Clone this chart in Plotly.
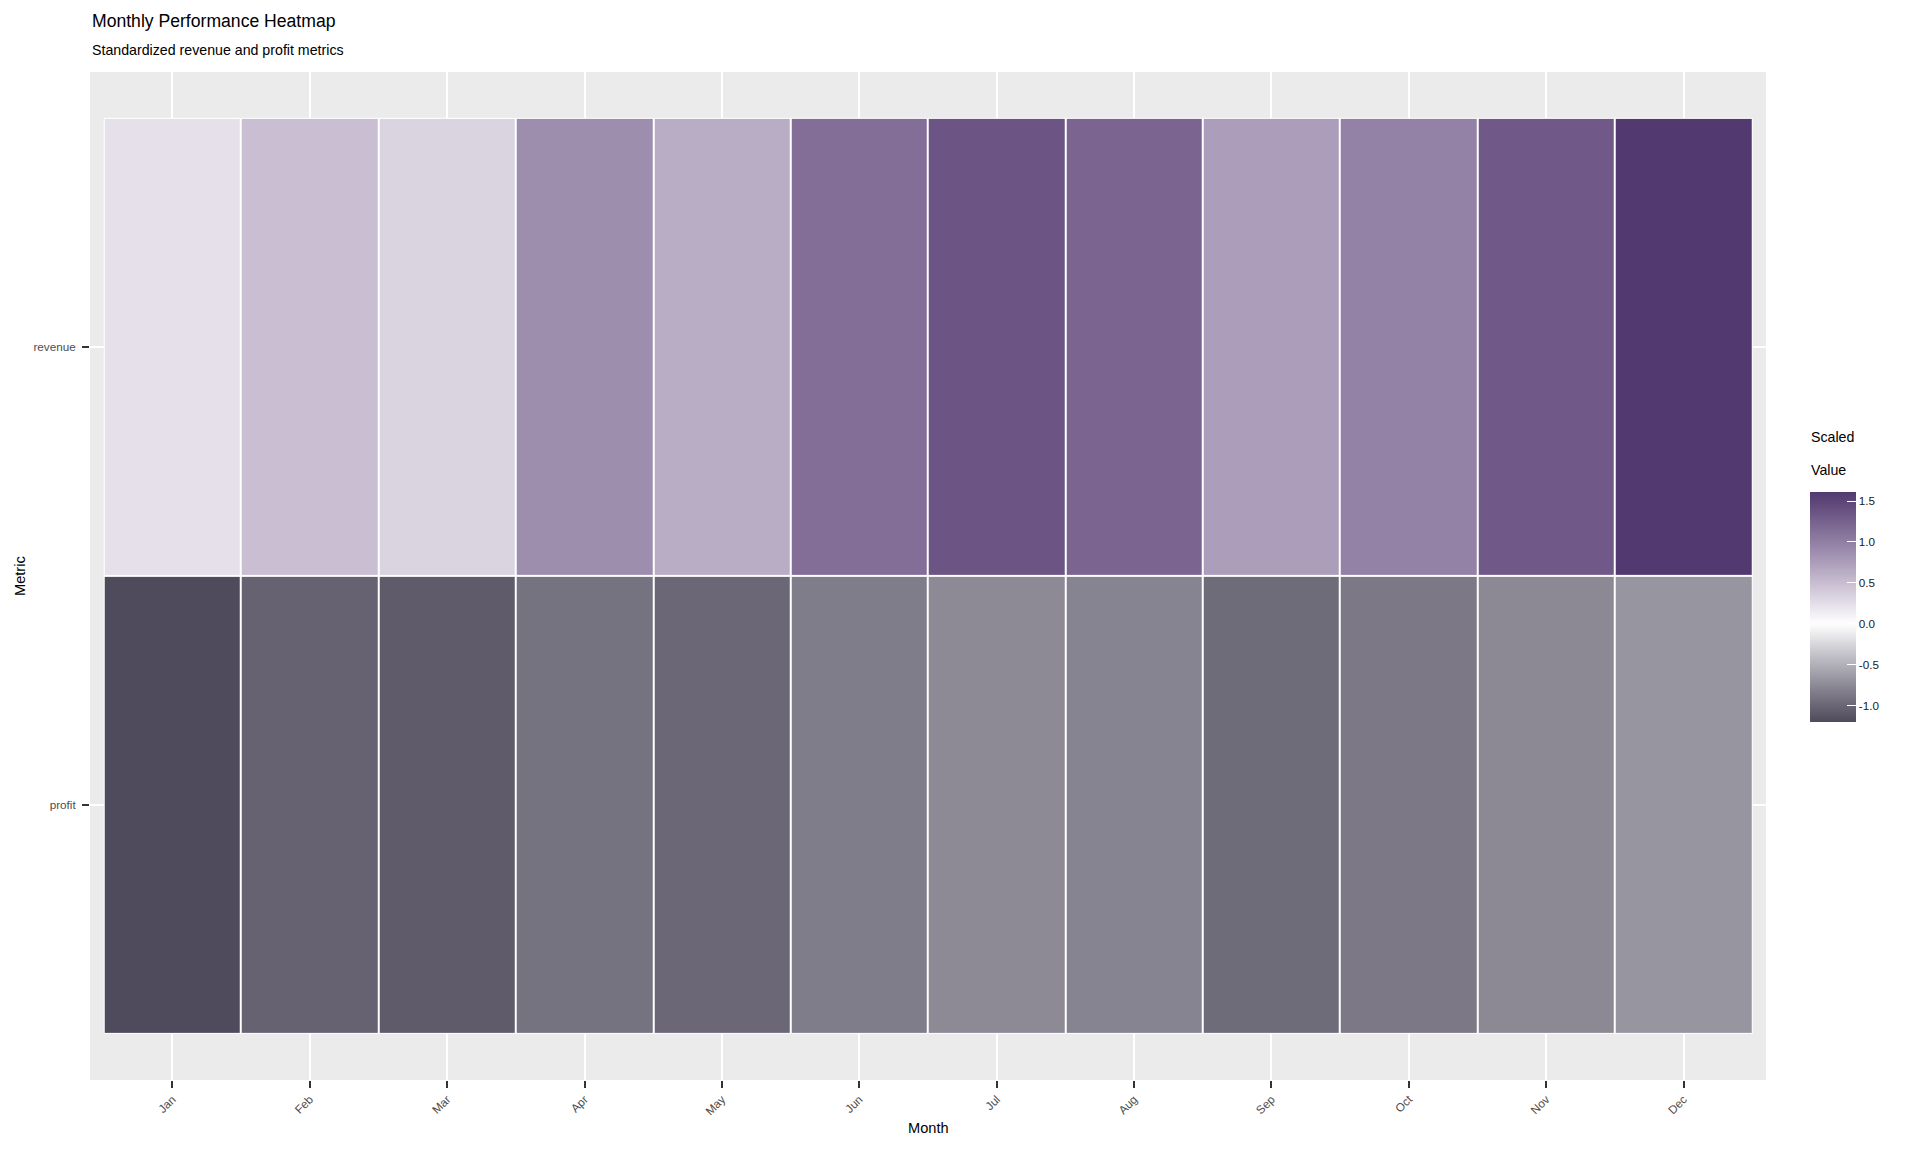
import plotly.graph_objects as go

# ---- data ----
months = ["Jan", "Feb", "Mar", "Apr", "May", "Jun", "Jul", "Aug", "Sep", "Oct", "Nov", "Dec"]
metrics = ["profit", "revenue"]
revenue = [0.23, 0.49, 0.33, 0.88, 0.63, 1.14, 1.36, 1.22, 0.75, 0.97, 1.32, 1.61]
profit = [-1.20, -1.03, -1.08, -0.91, -0.99, -0.84, -0.75, -0.79, -0.96, -0.87, -0.76, -0.68]
cbar_ticks = [-1.0, -0.5, 0.0, 0.5, 1.0, 1.5]

LOW_COL = "#4f4b5c"   # colour at data minimum
HIGH_COL = "#52396f"  # colour at data maximum
FONT = "Liberation Sans, Arial, sans-serif"

# panel geometry (pixels)
W, H = 1920, 1152
PL, PR, PT, PB = 90, 1766, 72, 1080
CB_L, CB_W, CB_TOP, CB_BOT = 1810, 46, 492, 722

# ---- Lab interpolation helpers (mimic ggplot gradient2) ----
def hex_to_rgb(h):
    h = h.lstrip("#")
    return [int(h[i:i + 2], 16) / 255 for i in (0, 2, 4)]

def srgb_to_lin(c):
    return c / 12.92 if c <= 0.04045 else ((c + 0.055) / 1.055) ** 2.4

def lin_to_srgb(c):
    c = max(0.0, min(1.0, c))
    return 12.92 * c if c <= 0.0031308 else 1.055 * c ** (1 / 2.4) - 0.055

WX, WY, WZ = 0.95047, 1.0, 1.08883

def f(t):
    return t ** (1 / 3) if t > 216 / 24389 else (24389 / 27 * t + 16) / 116

def finv(t):
    return t ** 3 if t ** 3 > 216 / 24389 else (116 * t - 16) / (24389 / 27)

def to_lab(h):
    r, g, b = [srgb_to_lin(c) for c in hex_to_rgb(h)]
    X = 0.4124 * r + 0.3576 * g + 0.1805 * b
    Y = 0.2126 * r + 0.7152 * g + 0.0722 * b
    Z = 0.0193 * r + 0.1192 * g + 0.9505 * b
    fx, fy, fz = f(X / WX), f(Y / WY), f(Z / WZ)
    return (116 * fy - 16, 500 * (fx - fy), 200 * (fy - fz))

def from_lab(L, a, b):
    fy = (L + 16) / 116
    fx = fy + a / 500
    fz = fy - b / 200
    X, Y, Z = WX * finv(fx), WY * finv(fy), WZ * finv(fz)
    r = 3.2406 * X - 1.5372 * Y - 0.4986 * Z
    g = -0.9689 * X + 1.8758 * Y + 0.0415 * Z
    bb = 0.0557 * X - 0.2040 * Y + 1.0570 * Z
    return "rgb(%d,%d,%d)" % tuple(round(255 * lin_to_srgb(c)) for c in (r, g, bb))

white_lab = to_lab("#ffffff")
low_lab = to_lab(LOW_COL)
high_lab = to_lab(HIGH_COL)

zmin = min(profit + revenue)
zmax = max(profit + revenue)

def colour_at(v):
    if v < 0:
        t = v / zmin
        tgt = low_lab
    else:
        t = v / zmax
        tgt = high_lab
    return from_lab(*[w + (c - w) * t for w, c in zip(white_lab, tgt)])

N = 60
colorscale = []
for i in range(N + 1):
    p = i / N
    v = zmin + p * (zmax - zmin)
    colorscale.append([p, colour_at(v)])

z = [profit, revenue]

def ypaper(pix):
    return (PB - pix) / (PB - PT)

def xpaper(pix):
    return (pix - PL) / (PR - PL)

fig = go.Figure()

# white underlay to create white tile outlines
fig.add_trace(go.Heatmap(
    x=months, y=metrics, z=[[0] * len(months) for _ in metrics],
    colorscale=[[0, "white"], [1, "white"]], showscale=False,
    hoverinfo="skip",
))

fig.add_trace(go.Heatmap(
    x=months, y=metrics, z=z,
    zmin=zmin, zmax=zmax,
    colorscale=colorscale,
    xgap=2, ygap=2,
    colorbar=dict(
        thickness=CB_W, thicknessmode="pixels",
        len=CB_BOT - CB_TOP, lenmode="pixels",
        x=xpaper(CB_L), xanchor="left", xpad=0,
        y=ypaper((CB_TOP + CB_BOT) / 2), yanchor="middle", ypad=0,
        outlinewidth=0,
        tickvals=cbar_ticks,
        ticktext=["%.1f" % t for t in cbar_ticks],
        ticks="inside", ticklen=9, tickcolor="white", tickwidth=1.2,
        tickfont=dict(family=FONT, size=11.7, color="#1a1a1a"),
    ),
))

# left-side white ticks on the colour bar (ggplot style)
shapes = []
for t in cbar_ticks:
    ypix = CB_BOT - (t - zmin) / (zmax - zmin) * (CB_BOT - CB_TOP)
    shapes.append(dict(type="line", xref="paper", yref="paper",
                       x0=xpaper(CB_L), x1=xpaper(CB_L + 9),
                       y0=ypaper(ypix), y1=ypaper(ypix),
                       line=dict(color="white", width=1.2)))

fig.update_layout(
    width=W, height=H,
    margin=dict(l=PL, r=W - PR, t=PT, b=H - PB),
    paper_bgcolor="white",
    plot_bgcolor="#ebebeb",
    font=dict(family=FONT, color="#1a1a1a"),
    xaxis=dict(
        type="category", range=[-0.6, 11.6],
        showgrid=True, gridcolor="white", gridwidth=2,
        ticks="outside", ticklen=7, tickwidth=2, tickcolor="#333333",
        tickangle=-45, ticklabelstandoff=0,
        tickfont=dict(family=FONT, size=11.7, color="#4d4d4d"),
        showline=False, zeroline=False,
    ),
    yaxis=dict(
        type="category", range=[-0.6, 1.6],
        showgrid=True, gridcolor="white", gridwidth=2,
        ticks="outside", ticklen=7, tickwidth=2, tickcolor="#333333",
        ticklabelstandoff=4,
        tickfont=dict(family=FONT, size=11.7, color="#4d4d4d"),
        showline=False, zeroline=False,
    ),
    showlegend=False,
    shapes=shapes,
)

annotations = [
    dict(text="Monthly Performance Heatmap", x=0, y=ypaper(21), xanchor="left", yanchor="middle",
         font=dict(size=17.6, color="#000000")),
    dict(text="Standardized revenue and profit metrics", x=0, y=ypaper(50), xanchor="left", yanchor="middle",
         font=dict(size=14.2, color="#000000")),
    dict(text="Month", x=0.5, y=ypaper(1128), xanchor="center", yanchor="middle",
         font=dict(size=14.6, color="#000000")),
    dict(text="Metric", x=xpaper(20), y=0.5, xanchor="center", yanchor="middle", textangle=-90,
         font=dict(size=14.6, color="#000000")),
    dict(text="Scaled", x=xpaper(1809), y=ypaper(437), xanchor="left", yanchor="middle",
         font=dict(size=14.2, color="#000000")),
    dict(text="Value", x=xpaper(1809), y=ypaper(470), xanchor="left", yanchor="middle",
         font=dict(size=14.2, color="#000000")),
]
for a in annotations:
    a.update(xref="paper", yref="paper", showarrow=False)
    a["font"]["family"] = FONT
fig.update_layout(annotations=annotations)

fig.write_html("out.html", config={"displayModeBar": False},
               post_script="document.body.style.margin='0';document.body.style.overflow='hidden';")
